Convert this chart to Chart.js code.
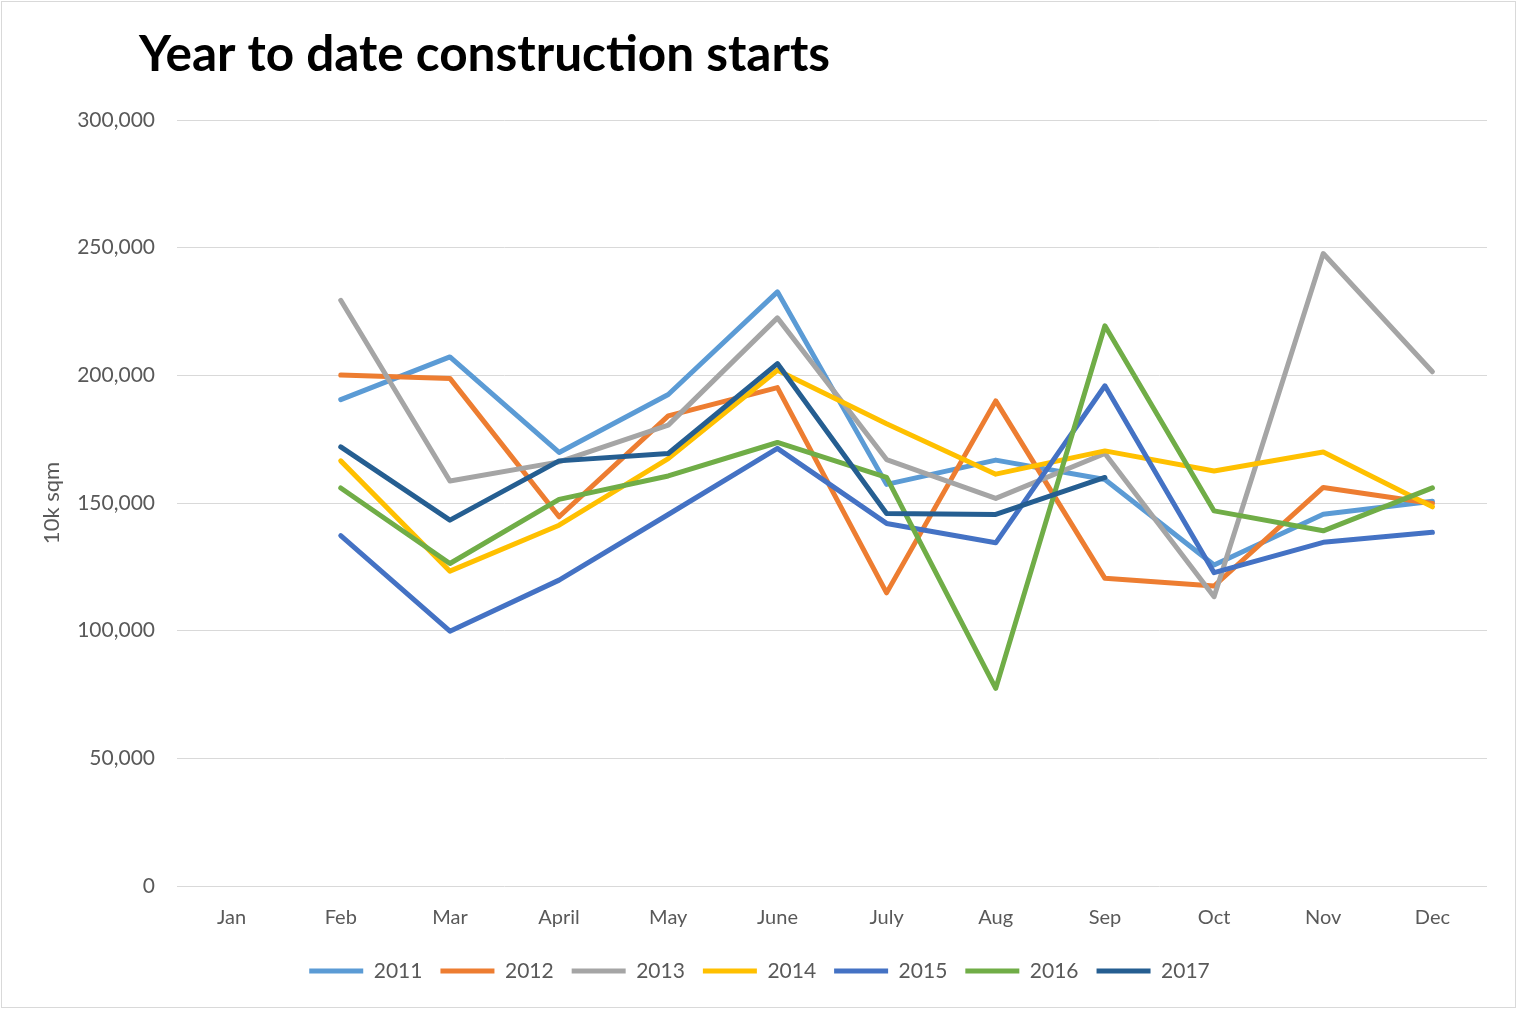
<!DOCTYPE html>
<html>
<head>
<meta charset="utf-8">
<script src="https://cdn.jsdelivr.net/npm/chart.js@4"></script>
<style>
  html, body { margin: 0; padding: 0; background: #ffffff; }
  #wrap { position: absolute; left: 0; top: 0; width: 1519px; height: 1011px; }
  #frame { position: absolute; left: 1px; top: 1px; width: 1513px; height: 1005px; border: 1.5px solid #d9d9d9; pointer-events: none; }
</style>
</head>
<body>
<div id="wrap">
  <canvas id="c" width="1519" height="1011" style="width:1519px;height:1011px"></canvas>
  <div id="frame"></div>
</div>
<script>
const months = ['Jan','Feb','Mar','April','May','June','July','Aug','Sep','Oct','Nov','Dec'];
const seriesNames = ['2011','2012','2013','2014','2015','2016','2017'];
const s2011 = [null, 190500, 207200, 169800, 192500, 232700, 157300, 166800, 159200, 125700, 145600, 150700];
const s2012 = [null, 200100, 198800, 144600, 184100, 195200, 114800, 190000, 120500, 117500, 156100, 149800];
const s2013 = [null, 229400, 158600, 166100, 180500, 222500, 167000, 151800, 169400, 113300, 247700, 201400];
const s2014 = [null, 166500, 123300, 141300, 167400, 202000, 181000, 161300, 170400, 162500, 170000, 148500];
const s2015 = [null, 137200, 99800, 119800, 145500, 171400, 142000, 134400, 195900, 122700, 134600, 138500];
const s2016 = [null, 155900, 126300, 151400, 160600, 173700, 160000, 77400, 219400, 146900, 139100, 155900];
const s2017 = [null, 172000, 143300, 166500, 169400, 204600, 145900, 145500, 160000, null, null, null];
const yTicks = [0, 50000, 100000, 150000, 200000, 250000, 300000];

const allSeries = [s2011, s2012, s2013, s2014, s2015, s2016, s2017];
const colors = ['#5B9BD5', '#ED7D31', '#A5A5A5', '#FFC000', '#4472C4', '#70AD47', '#255E91'];

Chart.defaults.font.family = 'Lato';

const titleShift = {
  id: 'titleShift',
  afterLayout(chart) {
    const t = chart.titleBlock;
    if (t) { t.left = 139; }
  }
};

new Chart(document.getElementById('c'), {
  type: 'line',
  data: {
    labels: months,
    datasets: allSeries.map((d, i) => ({
      label: seriesNames[i],
      data: d,
      borderColor: colors[i],
      backgroundColor: colors[i],
      borderWidth: 5,
      borderCapStyle: 'round',
      borderJoinStyle: 'round',
      pointRadius: 0,
      pointHoverRadius: 0,
      tension: 0,
      fill: false,
      order: allSeries.length - 1 - i
    }))
  },
  options: {
    responsive: false,
    animation: false,
    layout: { padding: { left: 32, right: 32, top: 0, bottom: 19.5 } },
    plugins: {
      title: {
        display: true,
        text: 'Year to date construction starts',
        align: 'start',
        color: '#000000',
        font: { family: 'Lato', size: 49.5, weight: 'bold' },
        padding: { top: 25.8, bottom: 34.8 }
      },
      legend: {
        position: 'bottom',
        labels: {
          usePointStyle: true,
          pointStyle: 'line',
          pointStyleWidth: 54,
          color: '#595959',
          font: { size: 21 },
          padding: 18,
          sort: (a, b) => a.datasetIndex - b.datasetIndex
        }
      },
      tooltip: { enabled: false }
    },
    scales: {
      x: {
        type: 'category',
        offset: true,
        grid: { display: false },
        border: { display: false },
        ticks: { color: '#595959', font: { size: 20 }, padding: 12, maxRotation: 0, autoSkip: false },
        afterFit: (s) => { s.height = 56.5; }
      },
      y: {
        min: 0,
        max: 300000,
        afterBuildTicks: (s) => { s.ticks = yTicks.map(v => ({ value: v })); },
        grid: { color: '#d9d9d9', lineWidth: 1, drawTicks: false },
        border: { display: false },
        ticks: {
          color: '#595959',
          font: { size: 21 },
          padding: 22,
          callback: (v) => Number(v).toLocaleString('en-US')
        },
        title: {
          display: true,
          text: '10k sqm',
          color: '#595959',
          font: { size: 22 },
          padding: { top: 7, bottom: 0 }
        },
        afterFit: (s) => { s.width = 145; }
      }
    }
  },
  plugins: [titleShift]
});
</script>
</body>
</html>
